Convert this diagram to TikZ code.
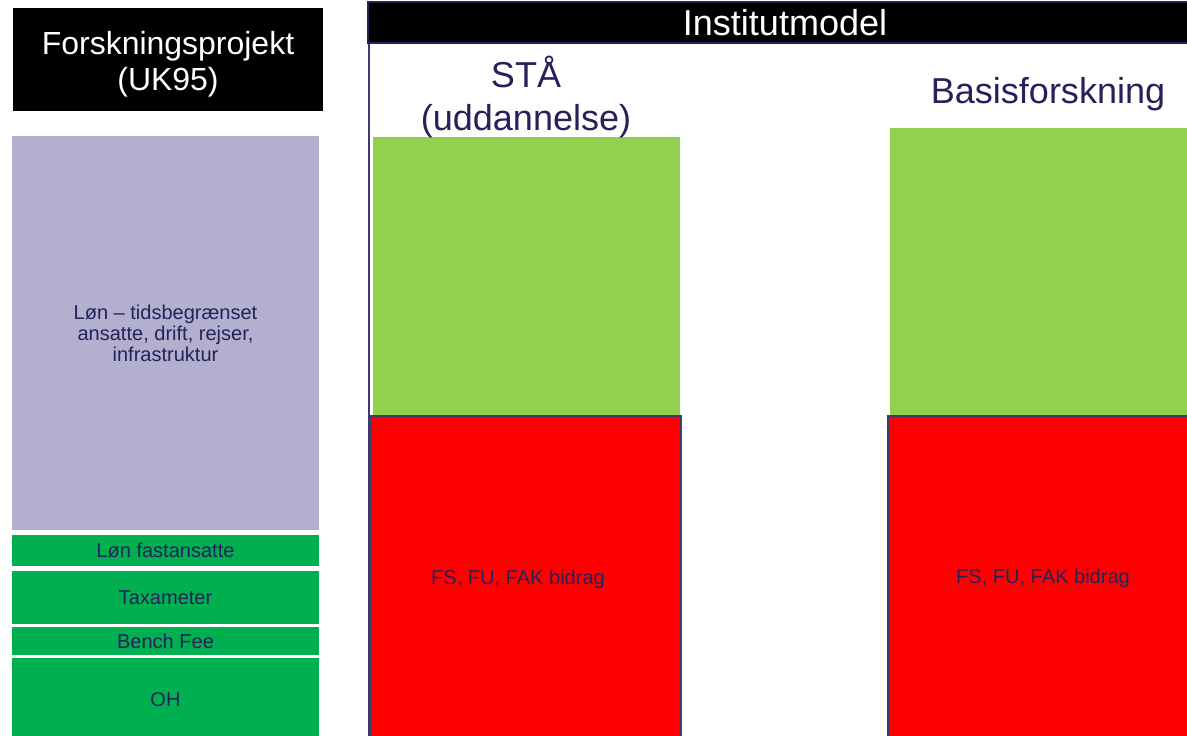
\documentclass[tikz,border=0pt]{standalone}
\usepackage{fontspec}
\setmainfont{Liberation Sans}
\usetikzlibrary{positioning}

\definecolor{navy}{HTML}{25215A}
\definecolor{frame}{HTML}{3E3A6E}
\definecolor{lavender}{HTML}{B3B0CF}
\definecolor{darkgreen}{HTML}{00B050}
\definecolor{lightgreen}{HTML}{92D050}

\begin{document}
\begin{tikzpicture}[
    x=0.02cm, y=-0.02cm,
    title/.style={rectangle, fill=black, text=white, align=center,
                  font=\fontsize{18.2}{20.5}\selectfont},
    part/.style={rectangle, inner sep=0pt, minimum width=6.14cm, text=navy,
                 align=center, font=\fontsize{11.4}{12}\selectfont},
    column/.style={rectangle, inner sep=0pt, fill=lightgreen},
    share/.style={rectangle, inner sep=0pt, fill=red, draw=frame, line width=1.1pt},
    head/.style={text=navy, align=center, font=\fontsize{20.5}{24.5}\selectfont},
    small/.style={text=navy, font=\fontsize{11.4}{12}\selectfont}
]
    \useasboundingbox (0,0) rectangle (1187,736);

    % Research project
    \node[title, minimum width=6.2cm, minimum height=2.06cm] (proj) at (168,59.5) {};
    \node[text=white, align=center, font=\fontsize{18.2}{20.5}\selectfont] (projtext) at (168,64)
        {Forskningsprojekt\\(UK95)};
    \node[part, fill=lavender, minimum height=7.88cm] (salary) at (165.5,333)
        {Løn – tidsbegrænset\\ansatte, drift, rejser,\\infrastruktur};
    \node[part, fill=darkgreen, minimum height=0.62cm] (fixed) at (165.5,550.5) {Løn fastansatte};
    \node[part, fill=darkgreen, minimum height=1.06cm] (taxa) at (165.5,597.5) {Taxameter};
    \node[part, fill=darkgreen, minimum height=0.56cm] (bench) at (165.5,641) {Bench Fee};
    \node[part, fill=darkgreen, minimum height=1.7cm] (oh) at (165.5,700) {OH};

    % Institute model frame
    \draw[frame, line width=0.8pt] (369,2) rectangle (1200,760);
    \node[title, draw=navy, line width=1.1pt, minimum width=16.7cm, minimum height=0.82cm,
          inner sep=0pt, font=\fontsize{20.5}{24}\selectfont] (inst) at (785,22.5) {Institutmodel};

    % STÅ column
    \node[column, minimum width=6.14cm, minimum height=5.56cm] (green1) at (526.5,276) {};
    \node[share, minimum width=6.22cm, minimum height=6.8cm] (red1) at (525.5,586) {};
    \node[small] (fs1) at (518,579) {FS, FU, FAK bidrag};
    \node[head] (sta) at (526,97) {STÅ\\(uddannelse)};

    % Basic research column
    \node[column, minimum width=6.2cm, minimum height=5.74cm] (green2) at (1045,271.5) {};
    \node[share, minimum width=6.2cm, minimum height=6.8cm] (red2) at (1043,586) {};
    \node[small] (fs2) at (1043,578) {FS, FU, FAK bidrag};
    \node[head] (basis) at (1048,94) {Basisforskning};

\end{tikzpicture}
\end{document}
